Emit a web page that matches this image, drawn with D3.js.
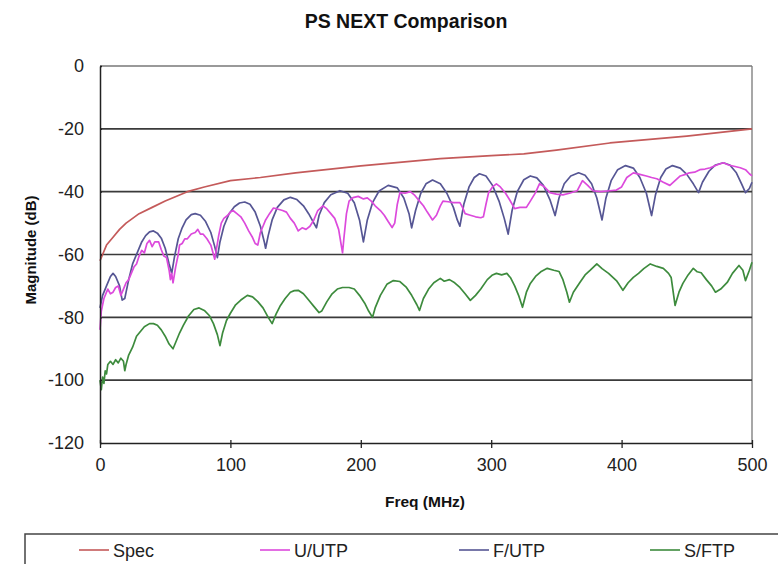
<!DOCTYPE html>
<html>
<head>
<meta charset="utf-8">
<script src="https://cdn.jsdelivr.net/npm/d3@7"></script>
<style>
    body { margin: 0; background: #fff; }
    svg { display: block; font-family: "Liberation Sans", Arial, sans-serif; }
</style>
</head>
<body>
<svg id="chart" width="778" height="564"></svg>
<script>

// Data
const seriesNames = ['Spec', 'U/UTP', 'F/UTP', 'S/FTP']
const seriesColors = ['#c45a5a', '#dc4adc', '#565694', '#3d8b3d']

const xTicks = [0, 100, 200, 300, 400, 500]
const yTicks = [0, -20, -40, -60, -80, -100, -120]

const specFreq = [0, 2, 5, 10, 15, 20, 30, 40, 50, 67, 80, 100, 123, 150, 200, 261, 300, 325, 350, 391, 450, 500]
const specDb = [-62, -60, -57, -54.5, -52, -50, -47, -45, -43, -40, -38.5, -36.5, -35.5, -34, -31.8, -29.5, -28.5, -28, -26.8, -24.5, -22.3, -20]

const uutpFreq = [0, 1, 3, 5, 6, 8, 10, 12, 14, 16, 18, 20, 22, 24, 26, 28, 30, 32, 34, 36, 38, 40, 42, 45, 47, 49, 51, 53, 54, 55, 56, 58, 60, 61, 63, 65, 67, 70, 73, 75, 77, 79, 82, 85, 87, 88, 89, 91, 93, 95, 98, 100, 102, 105, 108, 111, 114, 117, 119, 121, 123, 125, 127, 130, 133, 136, 140, 143, 146, 149, 152, 155, 158, 161, 164, 167, 171, 174, 177, 180, 183, 185, 186, 187, 189, 191, 194, 198, 202, 205, 208, 211, 215, 218, 221, 224, 226, 228, 230, 234, 238, 241, 245, 248, 251, 255, 258, 261, 263, 267, 271, 276, 278, 280, 284, 288, 292, 294, 296, 298, 301, 304, 307, 311, 314, 318, 322, 327, 330, 334, 337, 341, 345, 350, 355, 360, 366, 370, 374, 378, 384, 391, 396, 400, 404, 409, 414, 419, 423, 427, 432, 437, 441, 445, 449, 452, 456, 460, 464, 468, 473, 478, 482, 487, 491, 495, 498, 500]
const uutpDb = [-84, -78, -74, -72, -71, -72.5, -72, -70.5, -70, -73, -71, -69, -68, -66, -64, -63, -60.5, -58.7, -59.5, -56.5, -55.5, -57.5, -56, -56, -58.5, -60.5, -61, -65, -68, -66, -69, -64, -60, -57, -56.5, -55, -55, -53.5, -53, -52, -53.5, -53.5, -55, -57, -60, -61.5, -59, -54, -50, -48.5, -47.5, -46.5, -46, -47, -48, -50, -52.5, -54.6, -56.5, -57, -53, -51, -49, -47, -45.2, -45.5, -46, -46.5, -48.5, -50, -52.5, -51.5, -52, -51, -49, -46, -44.5, -45.5, -47, -48.5, -52, -57, -59.5, -55, -47, -43, -41.9, -41.5, -42.3, -42, -43, -44.5, -46, -47.5, -49.5, -51.4, -50, -44, -40.3, -40.5, -40, -41, -43, -44.5, -46.5, -49, -47.5, -44.5, -43, -43.2, -43.5, -43.5, -45, -47, -47.5, -48, -48.3, -48, -44, -40.3, -38.5, -37.5, -38.5, -40.5, -42.5, -45.4, -45, -45, -43, -40.3, -37.5, -38.5, -40.3, -40.8, -41, -40.5, -39.7, -36.5, -38, -39.7, -40, -39.7, -39.5, -38.5, -35.5, -34, -34.5, -35, -35.5, -35.9, -37, -38, -36.5, -35, -34.5, -34, -33.8, -33, -32.8, -32.4, -31.5, -30.8, -31.5, -32, -32.4, -33, -34.3, -35]

const futpFreq = [0, 2, 5, 8, 10, 12, 15, 17, 19, 20, 22, 25, 29, 32, 35, 38, 41, 44, 47, 50, 53, 55, 57, 60, 63, 66, 70, 73, 77, 81, 85, 88, 90, 92, 95, 99, 103, 107, 111, 115, 119, 123, 126, 127, 129, 132, 136, 141, 146, 151, 156, 160, 164, 166, 168, 172, 177, 184, 190, 195, 199, 202, 205, 209, 214, 221, 228, 233, 237, 239, 242, 246, 250, 255, 261, 266, 271, 274, 276, 279, 283, 287, 291, 296, 301, 306, 310, 313, 316, 320, 325, 330, 335, 340, 345, 349, 352, 356, 361, 367, 372, 377, 381, 385, 388, 392, 397, 403, 409, 414, 419, 423, 426, 430, 434, 439, 445, 450, 455, 459, 462, 467, 472, 478, 483, 488, 492, 495, 498, 500]
const futpDb = [-77, -73, -70, -67, -66, -67, -70, -74.5, -74, -72, -68, -63, -59, -56, -54, -52.8, -52.5, -53.2, -54.8, -58, -63, -66, -61, -55, -51.5, -49, -47.3, -47, -47.5, -49.5, -53, -57.5, -61, -56, -51, -47, -44.8, -43.6, -43.3, -44, -46.5, -51, -56, -58, -54, -49, -45, -42.6, -41.8, -42.5, -44.5, -47, -50, -51.5, -47.5, -43.5, -41, -39.7, -40.5, -43.5, -49, -56, -49, -43.5, -39.8, -38, -38.8, -42, -47, -51.5, -46, -40.5, -37.5, -36.3, -37.5, -40.5, -45, -49, -51, -44, -38.5, -35.5, -34.3, -35, -38, -43, -48.5, -53.5, -46, -40, -36.2, -35, -35.6, -38, -42.5, -47.6, -42, -37.5, -35, -34, -34.8, -37.5, -42, -49, -42, -36.5, -33, -31.7, -32.5, -35.5, -40.5, -47.6, -41, -35.5, -32.8, -31.7, -32.5, -34.5, -37.5, -40.3, -37, -33.5, -31.5, -30.8, -31.5, -34, -37.5, -40.3, -39, -37]

const sftpFreq = [0, 1, 2, 3, 4, 5, 6, 8, 10, 12, 14, 16, 18, 19, 20, 22, 25, 28, 31, 34, 38, 41, 44, 47, 50, 53, 56, 58, 61, 64, 68, 72, 76, 80, 84, 87, 90, 92, 94, 97, 100, 104, 108, 113, 117, 121, 125, 129, 132, 135, 138, 142, 146, 149, 152, 156, 160, 164, 168, 170, 174, 178, 182, 186, 191, 195, 199, 203, 206, 209, 211, 215, 220, 225, 230, 235, 239, 243, 245, 248, 252, 256, 261, 264, 268, 272, 276, 280, 284, 288, 292, 297, 301, 304, 308, 312, 315, 318, 321, 324, 327, 330, 334, 338, 343, 348, 352, 355, 358, 360, 363, 368, 372, 376, 381, 385, 390, 396, 398, 401, 405, 409, 413, 417, 422, 427, 432, 436, 438, 441, 444, 447, 451, 455, 458, 461, 465, 469, 472, 476, 481, 485, 490, 493, 495, 498, 500]
const sftpDb = [-100, -103, -99, -101, -97, -98, -95, -94, -95, -93.5, -94.5, -93, -94, -97, -95, -92, -89.5, -86, -84.5, -83, -82, -82, -82.5, -84, -86, -88.5, -90, -88, -85, -82.5, -79.5, -77.5, -77, -77.8, -79.5, -82, -85.5, -89, -85, -81, -78.7, -76, -74.5, -73, -73.5, -75, -77, -80, -82, -79, -76.5, -74, -72, -71.5, -71.4, -72.5, -74.5, -76.5, -78.5, -78, -75, -72.5, -71, -70.5, -70.5, -71, -73, -75.5, -78, -80, -77, -73, -69.5, -68.3, -68.6, -70.5, -73, -76, -77.8, -74, -71, -69, -67.6, -68.5, -68, -69, -70.5, -72.5, -74.6, -73, -71, -68, -66.5, -66, -66.5, -66, -67.5, -70, -73, -76.8, -72, -69.2, -67, -65.5, -64.4, -65, -65.4, -68, -72, -75.2, -72, -68.9, -66.5, -65, -63, -64.5, -66, -68.3, -69.5, -71.4, -69, -67.3, -66, -64.5, -63, -63.8, -64.4, -66, -67.3, -76.2, -72, -69.2, -66.5, -64.4, -65.5, -65.8, -68, -70, -72, -71, -68.9, -66, -63.5, -65, -68.3, -65, -62.5]

const seriesFreq = [specFreq, uutpFreq, futpFreq, sftpFreq]
const seriesDb = [specDb, uutpDb, futpDb, sftpDb]

// Chart Geometry
const svg = d3.select('#chart')
const plotLeft = 100
const plotRight = 752
const plotTop = 66
const plotBottom = 443

const xScale = d3.scaleLinear()
    .domain([0, 500])
    .range([plotLeft, plotRight])

const yScale = d3.scaleLinear()
    .domain([-120, 0])
    .range([plotBottom, plotTop])

// Title
svg.append('text')
    .attr('x', 406)
    .attr('y', 28)
    .attr('text-anchor', 'middle')
    .style('font-size', '19.5px')
    .style('font-weight', 'bold')
    .style('fill', '#111')
    .text('PS NEXT Comparison')

// Plot Border (right side)
svg.append('line')
    .attr('x1', plotRight).attr('x2', plotRight)
    .attr('y1', plotTop).attr('y2', plotBottom)
    .style('stroke', '#8a8a8a')
    .style('stroke-width', 1.5)

// Gridlines
svg.append('g')
    .selectAll('line')
    .data(yTicks.filter(d => d > -120))
    .enter()
    .append('line')
    .attr('x1', plotLeft)
    .attr('x2', plotRight)
    .attr('y1', d => yScale(d))
    .attr('y2', d => yScale(d))
    .style('stroke', d => d == 0 ? '#777' : '#3a3a3a')
    .style('stroke-width', 1.6)

// Series Lines
const line = d3.line()
    .x(d => xScale(d[0]))
    .y(d => yScale(d[1]))

const drawOrder = [3, 0, 2, 1]
drawOrder.forEach(function(s){
    const points = seriesFreq[s].map((f, i) => [f, seriesDb[s][i]])
    svg.append('path')
        .datum(points)
        .attr('d', line)
        .style('fill', 'none')
        .style('stroke', seriesColors[s])
        .style('stroke-width', 1.7)
        .style('stroke-linejoin', 'round')
})

// Axes
const yAxis = svg.append('g')
    .attr('transform', 'translate(' + plotLeft + ',0)')
    .call(d3.axisLeft(yScale).tickValues(yTicks).tickFormat(d => String(d))
        .tickSize(6).tickSizeOuter(0).tickPadding(10))

yAxis.select('.domain').style('stroke', '#222').style('stroke-width', 1.5)
yAxis.selectAll('.tick line').attr('x2', 2).style('stroke', '#222').style('stroke-width', 1.3)
yAxis.selectAll('.tick text')
    .style('font-size', '18px')
    .style('fill', '#222')
    .style('font-family', '"Liberation Sans", Arial, sans-serif')

const xAxis = svg.append('g')
    .attr('transform', 'translate(0,' + plotBottom + ')')
    .call(d3.axisBottom(xScale).tickValues(xTicks).tickFormat(d => String(d))
        .tickSize(5).tickSizeOuter(0).tickPadding(10))

xAxis.select('.domain').style('stroke', '#222').style('stroke-width', 1.5)
xAxis.selectAll('.tick line').attr('y1', -3).style('stroke', '#222').style('stroke-width', 1.3)
xAxis.selectAll('.tick text')
    .style('font-size', '18px')
    .style('fill', '#222')
    .style('font-family', '"Liberation Sans", Arial, sans-serif')

// Axis Titles
svg.append('text')
    .attr('x', 425)
    .attr('y', 507)
    .attr('text-anchor', 'middle')
    .style('font-size', '15.5px')
    .style('font-weight', 'bold')
    .style('fill', '#111')
    .text('Freq (MHz)')

svg.append('text')
    .attr('transform', 'translate(36,250) rotate(-90)')
    .attr('text-anchor', 'middle')
    .style('font-size', '15px')
    .style('font-weight', 'bold')
    .style('fill', '#111')
    .text('Magnitude (dB)')

// Legend
svg.append('rect')
    .attr('x', 25)
    .attr('y', 534)
    .attr('width', 770)
    .attr('height', 50)
    .style('fill', 'none')
    .style('stroke', '#444')
    .style('stroke-width', 1.5)

const legendX = [79, 260, 459, 650]
const legendItems = svg.append('g')
    .selectAll('g')
    .data(seriesNames)
    .enter()
    .append('g')
    .attr('transform', (_, i) => 'translate(' + legendX[i] + ',550)')

legendItems.append('line')
    .attr('x1', 0).attr('x2', 30)
    .attr('y1', 0).attr('y2', 0)
    .style('stroke', (_, i) => seriesColors[i])
    .style('stroke-width', 1.6)

legendItems.append('text')
    .attr('x', 34)
    .attr('y', 6.5)
    .style('font-size', '18px')
    .style('fill', '#222')
    .text(d => d)

</script>
</body>
</html>
